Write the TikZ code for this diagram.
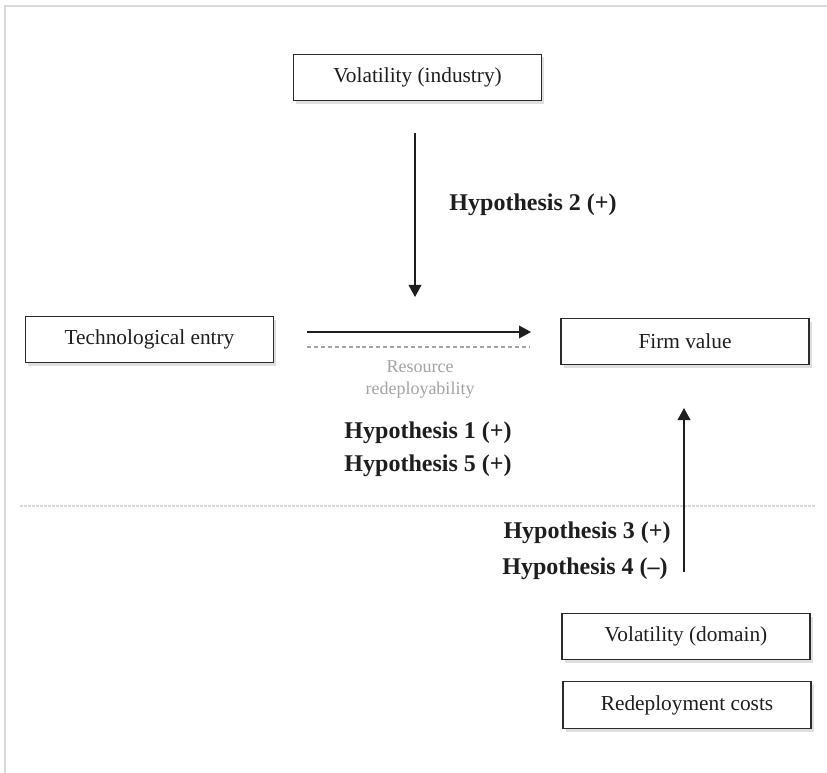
\documentclass[tikz,border=0pt]{standalone}
\usepackage{fontspec}
\setmainfont{Liberation Serif}
\usepackage{tikz}
\usetikzlibrary{arrows.meta,shadows}
\definecolor{boxline}{HTML}{2B2B2B}
\definecolor{inkc}{HTML}{1E1E1E}
\definecolor{fadetext}{HTML}{A3A3A3}
\definecolor{frameline}{HTML}{D9D9D9}
\tikzset{
 varbox/.style={draw=boxline,line width=0.8pt,fill=white,text=inkc,
  minimum width=186pt,minimum height=35pt,inner sep=0pt,
  font=\fontsize{16}{19}\selectfont,
  drop shadow={shadow xshift=2pt,shadow yshift=-2.5pt,opacity=0.25}},
 hyp/.style={text=inkc,font=\fontsize{18}{21}\selectfont\bfseries},
 effect/.style={draw=inkc,line width=1.1pt,-{Triangle[length=9pt,width=9.5pt]}}
}
\begin{document}
\begin{tikzpicture}[x=0.75pt,y=-0.75pt]
 \useasboundingbox (0,0) rectangle (827,773);
 % frame
 \draw[frameline,line width=1.2pt] (5,773) -- (5,6) -- (827,6);
 \draw[frameline,line width=0.8pt,dash pattern=on 2pt off 1pt] (20,506) -- (816,506);
 % boxes
 \node[varbox] (industry) at (417.5,77.5) {Volatility (industry)};
 \node[varbox] (techentry) at (149.5,339.5) {Technological entry};
 \node[varbox] (firmvalue) at (685,341.5) {Firm value};
 \node[varbox] (domain) at (686,636.5) {Volatility (domain)};
 \node[varbox] (costs) at (687,705) {Redeployment costs};
 % arrow ends
 \coordinate (downtop) at (415,133);
 \coordinate (downtip) at (415,297);
 \coordinate (mainstart) at (307,332);
 \coordinate (maintip) at (531,332);
 \coordinate (upfoot) at (684,572);
 \coordinate (uptip) at (684,408);
 \coordinate (dashstart) at (307,347);
 \coordinate (dashend) at (529,347);
 \draw[effect] (downtop) -- (downtip);
 \draw[effect] (mainstart) -- (maintip);
 \draw[effect] (upfoot) -- (uptip);
 \draw[fadetext,line width=0.8pt,dash pattern=on 3pt off 2.2pt] (dashstart) -- (dashend);
 % labels
 \node[text=fadetext,font=\fontsize{13.5}{16.5}\selectfont,align=center] (moderator) at (420,380) {Resource\\redeployability};
 \node[hyp] (hyptwo) at (533,205) {Hypothesis 2 (+)};
 \node[hyp] (hypone) at (428,433) {Hypothesis 1 (+)};
 \node[hyp] (hypfive) at (428,466) {Hypothesis 5 (+)};
 \node[hyp] (hypthree) at (587,533) {Hypothesis 3 (+)};
 \node[hyp] (hypfour) at (585,569) {Hypothesis 4 (--)};
\end{tikzpicture}
\end{document}
